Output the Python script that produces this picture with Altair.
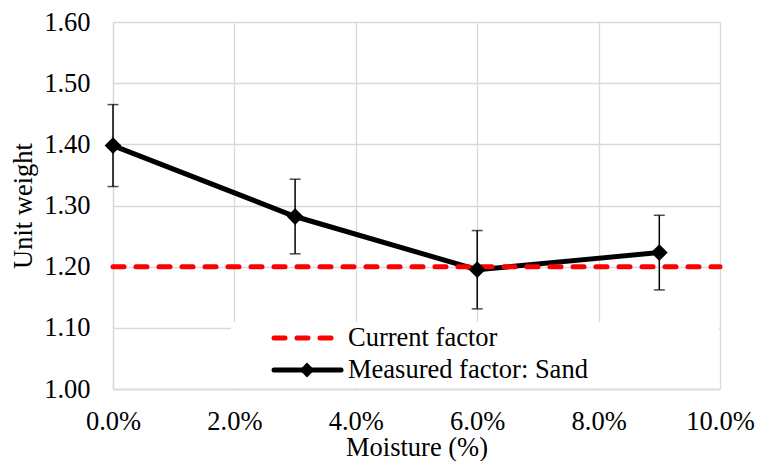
import altair as alt
import pandas as pd

# ---- data ----
moisture = [0.0, 0.03, 0.06, 0.09]
unit_weight = [1.398, 1.282, 1.195, 1.223]
error = [0.067, 0.061, 0.064, 0.061]
current_factor = 1.20
current_x = [0.0, 0.10]
x_ticks = [0.0, 0.02, 0.04, 0.06, 0.08, 0.10]
y_ticks = [1.0, 1.1, 1.2, 1.3, 1.4, 1.5, 1.6]
legend_labels = ["Current factor", "Measured factor: Sand"]

FONT = "Times New Roman, Liberation Serif, serif"
FS = 26.5
W, H = 607, 367
GRID = "#d9d9d9"

meas = pd.DataFrame({"moisture": moisture, "uw": unit_weight, "err": error})
cur = pd.DataFrame({"moisture": current_x, "uw": [current_factor] * len(current_x)})
one = pd.DataFrame({"k": [0]})

xs = alt.Scale(domain=[0, 0.10], nice=False)
ys = alt.Scale(domain=[1.0, 1.6], nice=False, zero=False)

x_axis = alt.Axis(values=x_ticks, format=".1%", title="Moisture (%)", grid=True,
                  ticks=False, labelPadding=19, labelFlush=False, labelFont=FONT,
                  labelFontSize=FS, labelColor="black", titleFont=FONT, titleFontSize=FS,
                  titleFontWeight="normal", titleColor="black",
                  titleX=W / 2, titleY=58, titleBaseline="middle",
                  domainColor=GRID, domainWidth=1.3, gridColor=GRID, gridWidth=1.3)
y_axis = alt.Axis(values=y_ticks, format=".2f", title="Unit weight", grid=True,
                  ticks=False, labelPadding=23, labelFlush=False, labelFont=FONT,
                  labelFontSize=FS, labelColor="black", titleFont=FONT, titleFontSize=FS,
                  titleFontWeight="normal", titleColor="black",
                  titleX=-90, titleY=H / 2, titleAngle=270, titleAlign="center",
                  titleBaseline="middle",
                  domainColor=GRID, domainWidth=1.3, gridColor=GRID, gridWidth=1.3)

X = alt.X("moisture:Q", scale=xs, axis=x_axis)
Y = alt.Y("uw:Q", scale=ys, axis=y_axis)

legend_box = alt.Chart(one).mark_rect(fill="white").encode(
    x=alt.value(118), x2=alt.value(606), y=alt.value(300), y2=alt.value(366))

meas_line = alt.Chart(meas).mark_line(color="black", strokeWidth=5).encode(x=X, y=Y)

cur_line = alt.Chart(cur).mark_line(color="#ff0000", strokeWidth=5,
                                     strokeDash=[11, 12], strokeCap="round").encode(x=X, y=Y)

err_base = alt.Chart(meas).transform_calculate(
    lo="datum.uw - datum.err", hi="datum.uw + datum.err")
err_rule = err_base.mark_rule(color="black", strokeWidth=1.5).encode(
    x=X, y=alt.Y("lo:Q", scale=ys, axis=y_axis), y2="hi:Q")
err_cap_lo = err_base.mark_tick(color="black", orient="horizontal", size=11,
                                thickness=1.5).encode(
    x=X, y=alt.Y("lo:Q", scale=ys, axis=y_axis))
err_cap_hi = err_base.mark_tick(color="black", orient="horizontal", size=11,
                                thickness=1.5).encode(
    x=X, y=alt.Y("hi:Q", scale=ys, axis=y_axis))

points = alt.Chart(meas).mark_point(shape="diamond", filled=True, color="black",
                                    opacity=1, size=280).encode(x=X, y=Y)

# legend contents
leg_dash = alt.Chart(one).mark_rule(color="#ff0000", strokeWidth=5,
                                    strokeDash=[11, 12], strokeCap="round").encode(
    x=alt.value(161), x2=alt.value(225), y=alt.value(316))
leg_line = alt.Chart(one).mark_rule(color="black", strokeWidth=5, strokeCap="round").encode(
    x=alt.value(161), x2=alt.value(228), y=alt.value(348))
leg_pt = alt.Chart(one).mark_point(shape="diamond", filled=True, color="black",
                                   opacity=1, size=220).encode(
    x=alt.value(194), y=alt.value(348))
leg_txt1 = alt.Chart(one).mark_text(text=legend_labels[0], font=FONT, fontSize=FS,
                                    align="left", baseline="middle", color="black").encode(
    x=alt.value(235), y=alt.value(316))
leg_txt2 = alt.Chart(one).mark_text(text=legend_labels[1], font=FONT, fontSize=FS,
                                    align="left", baseline="middle", color="black").encode(
    x=alt.value(235), y=alt.value(348))

chart = alt.layer(
    legend_box, meas_line, cur_line, err_rule, err_cap_lo, err_cap_hi, points,
    leg_dash, leg_line, leg_pt, leg_txt1, leg_txt2
).properties(
    width=W, height=H,
    autosize=alt.AutoSizeParams(type="none"),
    padding={"left": 113, "top": 22, "right": 37, "bottom": 72},
    background="white",
).configure_view(stroke=None)

chart.save("out.html", embed_options={"renderer": "svg", "actions": False})
